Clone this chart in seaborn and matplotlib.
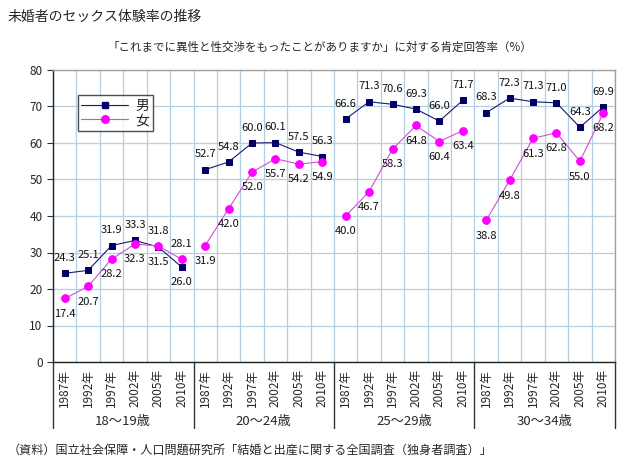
import numpy as np
import pandas as pd
import matplotlib
matplotlib.use("Agg")
import matplotlib.pyplot as plt
import seaborn as sns
from matplotlib.lines import Line2D
import matplotlib.transforms as mtransforms

sns.set_style("white")
plt.rcParams['font.family'] = ['Noto Sans CJK JP', 'DejaVu Sans']

years = ["1987年", "1992年", "1997年", "2002年", "2005年", "2010年"]
age_groups = ["18～19歳", "20～24歳", "25～29歳", "30～34歳"]
male = [24.3, 25.1, 31.9, 33.3, 31.5, 26.0,
        52.7, 54.8, 60.0, 60.1, 57.5, 56.3,
        66.6, 71.3, 70.6, 69.3, 66.0, 71.7,
        68.3, 72.3, 71.3, 71.0, 64.3, 69.9]
female = [17.4, 20.7, 28.2, 32.3, 31.8, 28.1,
          31.9, 42.0, 52.0, 55.7, 54.2, 54.9,
          40.0, 46.7, 58.3, 64.8, 60.4, 63.4,
          38.8, 49.8, 61.3, 62.8, 55.0, 68.2]

title = "未婚者のセックス体験率の推移"
subtitle = "「これまでに異性と性交渉をもったことがありますか」に対する肯定回答率（%）"
source = "（資料）国立社会保障・人口問題研究所「結婚と出産に関する全国調査（独身者調査）」"

n = len(male)
pos = np.arange(n)
group = np.repeat(age_groups, len(years))
df = pd.concat([
    pd.DataFrame({"pos": pos, "val": male, "sex": "男", "grp": group}),
    pd.DataFrame({"pos": pos, "val": female, "sex": "女", "grp": group}),
], ignore_index=True)

line_col = {"男": "#1a1a6e", "女": "#d050d0"}
mark_col = {"男": "#000066", "女": "#ff00ff"}

fig = plt.figure(figsize=(6.4, 4.72), dpi=100)
ax = fig.add_axes([53/640, 1-362/472, (615-53)/640, 292/472])

sns.lineplot(data=df, x="pos", y="val", hue="sex", style="sex", units="grp",
             estimator=None, palette=line_col, markers={"男": "s", "女": "o"},
             dashes=False, linewidth=0.8, legend=False, ax=ax)

for ln in ax.lines:
    c = matplotlib.colors.to_hex(ln.get_color())
    if c == line_col["男"]:
        ln.set_markerfacecolor(mark_col["男"]); ln.set_markeredgecolor(mark_col["男"])
        ln.set_markersize(4.5)
    else:
        ln.set_markerfacecolor(mark_col["女"]); ln.set_markeredgecolor(mark_col["女"])
        ln.set_markersize(5.5)

# data labels
for i in range(n):
    m, f = male[i], female[i]
    hi_above_m = m >= f
    for v, above in ((m, hi_above_m), (f, not hi_above_m)):
        ax.annotate(f"{v:.1f}", (pos[i], v), xytext=(0, 11 if above else -11),
                    textcoords="offset points", ha="center", va="center",
                    fontsize=8, color="#111111")

ax.set_xlim(-0.5, n - 0.5)
ax.set_ylim(0, 80)
ax.set_yticks(np.arange(0, 81, 10))
ax.set_xticks(pos)
ax.set_xticklabels(years * len(age_groups), rotation=90, fontsize=8.5)
ax.set_xticks(np.arange(-0.5, n, 1), minor=True)
ax.tick_params(axis="x", which="both", length=0, pad=5)
ax.tick_params(axis="y", length=4, direction="out", labelsize=8.5, left=True, color="#333333")
ax.set_xlabel(""); ax.set_ylabel("")

ax.grid(False)
ax.grid(True, axis="y", which="major", color="#b4cfe2", linewidth=0.9)
ax.grid(True, axis="x", which="minor", color="#b4cfe2", linewidth=0.9)
ax.set_axisbelow(True)

for s in ["top", "right"]:
    ax.spines[s].set_color("#a0a0a0"); ax.spines[s].set_linewidth(1.0)
for s in ["left", "bottom"]:
    ax.spines[s].set_color("#222222"); ax.spines[s].set_linewidth(1.0)

trans = mtransforms.blended_transform_factory(ax.transData, ax.transAxes)
for k in range(len(age_groups) + 1):
    xb = k * len(years) - 0.5
    ax.plot([xb, xb], [0, -0.225], transform=trans, clip_on=False,
            color="#333333", linewidth=1.0)
for k, g in enumerate(age_groups):
    xc = k * len(years) + (len(years) - 1) / 2
    ax.text(xc, -0.205, g, transform=trans, ha="center", va="center", fontsize=9.5)

handles = [Line2D([0], [0], color=line_col["男"], marker="s", markersize=4.5,
                  markerfacecolor=mark_col["男"], markeredgecolor=mark_col["男"], lw=0.8),
           Line2D([0], [0], color=line_col["女"], marker="o", markersize=5.5,
                  markerfacecolor=mark_col["女"], markeredgecolor=mark_col["女"], lw=0.8)]
leg = ax.legend(handles, ["男", "女"], loc="upper left", bbox_to_anchor=(0.044, 0.914),
                borderaxespad=0, fontsize=10, frameon=True, fancybox=False,
                handlelength=3.4, borderpad=0.25, labelspacing=0.05, handletextpad=0.5)
leg.get_frame().set_edgecolor("#222222")
leg.get_frame().set_linewidth(1.0)

fig.text(8/640, 1-17/472, title, fontsize=10, ha="left", va="center")
fig.text(0.5, 1-47/472, subtitle, fontsize=8.3, ha="center", va="center")
fig.text(8/640, 1-450/472, source, fontsize=8.7, ha="left", va="center")

fig.savefig("out.png", dpi=100)
